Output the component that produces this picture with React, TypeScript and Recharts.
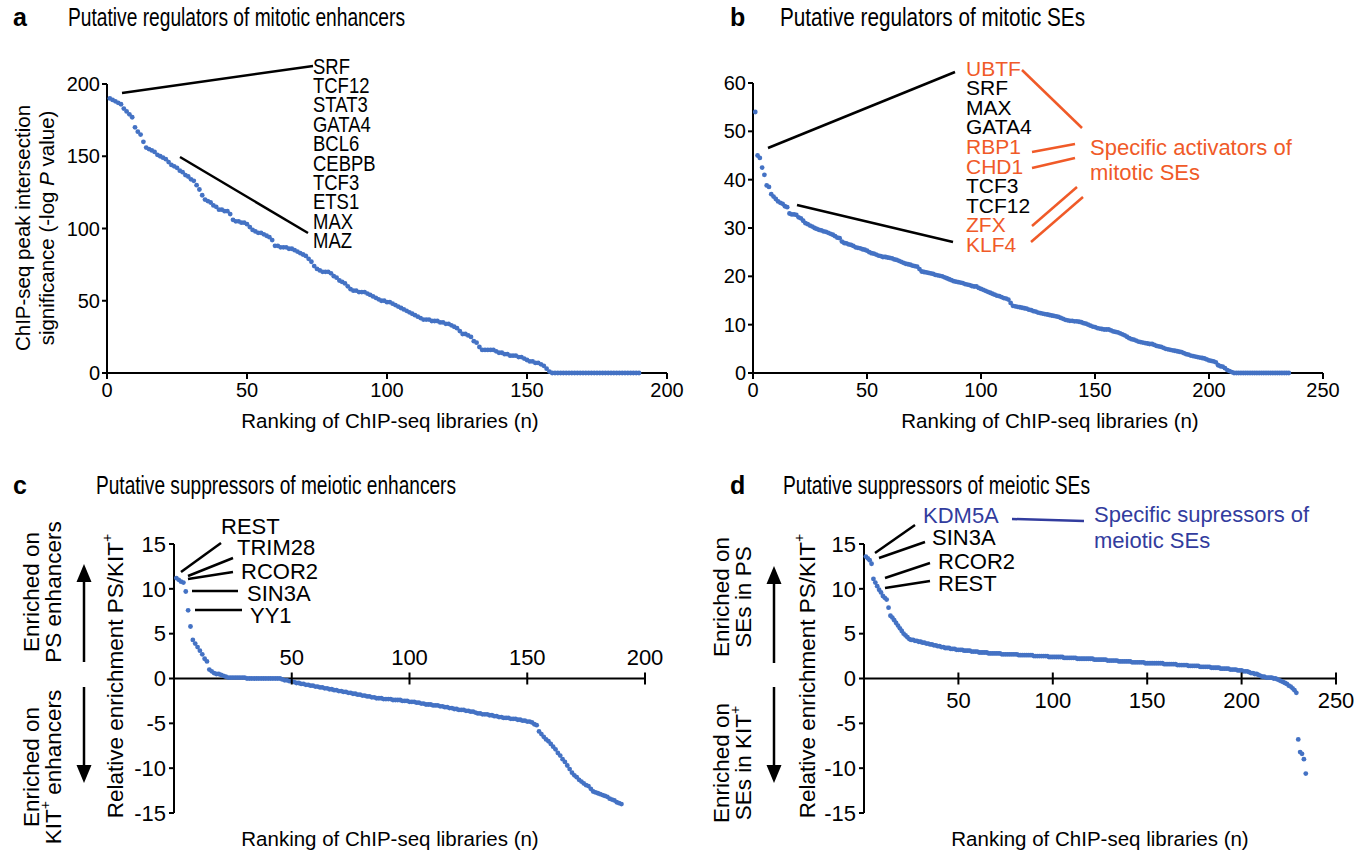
import React from 'react';
import { ScatterChart, Scatter, XAxis, YAxis, ReferenceLine } from 'recharts';

// a: -log P of peak intersection, ranked libraries (mitotic enhancers)
const enhancerScores = [
  190, 189, 188, 187, 186, 183, 181, 179, 177, 170,
  167, 165, 160, 156, 155, 154, 153, 151, 150, 149,
  148, 146, 144, 143, 142, 140, 139, 137, 136, 134,
  133, 130, 127, 123, 120, 119, 118, 116, 115, 113,
  113, 112, 112, 110, 106, 105, 105, 104, 104, 103,
  101, 99, 98, 97, 97, 96, 95, 94, 92, 88,
  88, 87, 87, 87, 86, 86, 85, 84, 83, 82,
  81, 79, 77, 74, 72, 71, 70, 70, 70, 69,
  67, 66, 64, 63, 62, 60, 58, 57, 57, 56,
  56, 56, 55, 54, 53, 52, 51, 50, 50, 49,
  49, 48, 47, 46, 45, 44, 43, 42, 41, 40,
  39, 38, 37, 37, 37, 36, 36, 36, 35, 35,
  34, 34, 33, 32, 31, 29, 27, 27, 26, 25,
  22, 21, 18, 16, 16, 16, 16, 16, 15, 14,
  14, 13, 13, 12, 12, 12, 11, 11, 10, 9,
  8, 8, 7, 7, 6, 5, 3, 1, 0, 0,
  0, 0, 0, 0, 0, 0, 0, 0, 0, 0,
  0, 0, 0, 0, 0, 0, 0, 0, 0, 0,
  0, 0, 0, 0, 0, 0, 0, 0, 0, 0,
];

// b: -log P, mitotic SEs
const seScores = [
  54, 45, 44.5, 42.5, 41, 38.8, 38.5, 37, 36.5, 36,
  35.5, 35.2, 35, 34.5, 34.3, 33, 32.8, 32.8, 32.7, 32.2,
  32, 31.5, 31, 30.8, 30.5, 30.3, 30, 29.8, 29.6, 29.5,
  29.3, 29.2, 29, 28.8, 28.6, 28.3, 28, 27.9, 27.2, 26.9,
  26.8, 26.6, 26.5, 26.3, 26, 25.9, 25.8, 25.6, 25.5, 25.3,
  25, 24.8, 24.7, 24.5, 24.3, 24.2, 24, 24, 23.9, 23.8,
  23.7, 23.5, 23.4, 23.2, 23, 22.8, 22.6, 22.5, 22.4, 22.2,
  22.1, 22, 21.5, 21, 20.9, 20.8, 20.7, 20.6, 20.5, 20.3,
  20.2, 20.1, 20, 19.8, 19.6, 19.4, 19.2, 19, 18.9, 18.8,
  18.7, 18.6, 18.4, 18.3, 18.2, 18, 17.9, 17.9, 17.6, 17.4,
  17.2, 17, 16.8, 16.6, 16.4, 16.2, 16, 15.9, 15.7, 15.5,
  15.4, 15.2, 14.5, 13.9, 13.8, 13.7, 13.6, 13.5, 13.4, 13.3,
  13.1, 13, 12.8, 12.7, 12.5, 12.4, 12.3, 12.2, 12.1, 12,
  11.9, 11.8, 11.7, 11.6, 11.4, 11.2, 11, 10.9, 10.8, 10.8,
  10.7, 10.7, 10.6, 10.5, 10.3, 10.2, 10, 9.8, 9.6, 9.5,
  9.3, 9.2, 9.1, 9, 9, 9, 8.8, 8.6, 8.5, 8.4,
  8.2, 8, 7.8, 7.5, 7.2, 7, 6.9, 6.7, 6.5, 6.4,
  6.3, 6.2, 6.1, 6, 6, 5.8, 5.6, 5.5, 5.4, 5.2,
  5, 4.9, 4.8, 4.7, 4.6, 4.5, 4.4, 4.3, 4.1, 3.9,
  3.8, 3.6, 3.5, 3.4, 3.3, 3.2, 3.1, 3, 2.8, 2.6,
  2.5, 2.4, 2.2, 1.6, 1.4, 1.3, 1, 0.6, 0.4, 0.2,
  0, 0, 0, 0, 0, 0, 0, 0, 0, 0,
  0, 0, 0, 0, 0, 0, 0, 0, 0, 0,
  0, 0, 0, 0, 0,
];

// c: relative enrichment PS/KIT+, meiotic enhancers
const enhancerRatio = [
  11.2, 11, 10.8, 10.7, 9.7, 7.6, 5.8, 4.3, 3.9, 3.5,
  3.1, 2.7, 2.2, 1.9, 1.0, 0.8, 0.6, 0.5, 0.5, 0.4,
  0.3, 0.2, 0.1, 0.1, 0.1, 0.1, 0.1, 0.1, 0.1, 0.1,
  0, 0, 0, 0, 0, 0, 0, 0, 0, 0,
  0, 0, 0, 0, 0, -0.1, -0.2, -0.2, -0.3, -0.3,
  -0.4, -0.5, -0.5, -0.6, -0.6, -0.7, -0.7, -0.8, -0.8, -0.9,
  -0.9, -1.0, -1.0, -1.1, -1.1, -1.2, -1.2, -1.3, -1.3, -1.4,
  -1.4, -1.5, -1.5, -1.6, -1.6, -1.7, -1.7, -1.8, -1.8, -1.9,
  -1.9, -2.0, -2.0, -2.1, -2.1, -2.2, -2.2, -2.2, -2.3, -2.3,
  -2.3, -2.3, -2.4, -2.4, -2.4, -2.4, -2.5, -2.5, -2.5, -2.6,
  -2.6, -2.6, -2.7, -2.7, -2.8, -2.8, -2.9, -2.9, -2.9, -3.0,
  -3.0, -3.0, -3.1, -3.1, -3.2, -3.2, -3.3, -3.3, -3.4, -3.4,
  -3.5, -3.5, -3.5, -3.6, -3.6, -3.7, -3.7, -3.8, -3.9, -3.9,
  -4.0, -4.0, -4.0, -4.1, -4.1, -4.2, -4.2, -4.3, -4.3, -4.4,
  -4.4, -4.4, -4.5, -4.5, -4.5, -4.6, -4.6, -4.7, -4.7, -4.8,
  -4.8, -4.9, -5.1, -5.2, -5.9, -6.2, -6.5, -6.8, -7.0, -7.3,
  -7.6, -7.9, -8.3, -8.6, -9.0, -9.3, -9.7, -10.1, -10.5, -10.8,
  -11.0, -11.3, -11.5, -11.7, -11.9, -12.0, -12.3, -12.6, -12.7, -12.8,
  -12.9, -13.0, -13.1, -13.2, -13.4, -13.5, -13.6, -13.8, -13.9, -14.0,
];

// d: relative enrichment PS/KIT+, meiotic SEs
const seRatio = [
  13.6, 13.4, 13.2, 12.8, 11.1, 10.7, 10.3, 9.9, 9.6, 9.2,
  9.0, 8.8, 7.9, 7.0, 6.8, 6.5, 6.2, 5.9, 5.6, 5.3,
  5.0, 4.8, 4.6, 4.4, 4.3, 4.3, 4.2, 4.2, 4.1, 4.1,
  4.0, 4.0, 3.9, 3.9, 3.8, 3.8, 3.7, 3.7, 3.6, 3.6,
  3.5, 3.5, 3.4, 3.4, 3.4, 3.3, 3.3, 3.3, 3.2, 3.2,
  3.2, 3.2, 3.1, 3.1, 3.1, 3.1, 3.0, 3.0, 3.0, 3.0,
  2.9, 2.9, 2.9, 2.9, 2.9, 2.8, 2.8, 2.8, 2.8, 2.8,
  2.8, 2.8, 2.7, 2.7, 2.7, 2.7, 2.7, 2.7, 2.7, 2.7,
  2.7, 2.6, 2.6, 2.6, 2.6, 2.6, 2.6, 2.6, 2.6, 2.5,
  2.5, 2.5, 2.5, 2.5, 2.5, 2.5, 2.5, 2.4, 2.4, 2.4,
  2.4, 2.4, 2.4, 2.4, 2.4, 2.3, 2.3, 2.3, 2.3, 2.3,
  2.3, 2.3, 2.2, 2.2, 2.2, 2.2, 2.2, 2.2, 2.2, 2.2,
  2.2, 2.1, 2.1, 2.1, 2.1, 2.1, 2.1, 2.1, 2.0, 2.0,
  2.0, 2.0, 2.0, 2.0, 1.9, 1.9, 1.9, 1.9, 1.9, 1.9,
  1.9, 1.8, 1.8, 1.8, 1.8, 1.8, 1.8, 1.8, 1.7, 1.7,
  1.7, 1.7, 1.7, 1.7, 1.7, 1.7, 1.7, 1.7, 1.6, 1.6,
  1.6, 1.6, 1.6, 1.6, 1.6, 1.5, 1.5, 1.5, 1.5, 1.5,
  1.5, 1.4, 1.4, 1.4, 1.4, 1.4, 1.4, 1.3, 1.3, 1.3,
  1.3, 1.3, 1.3, 1.2, 1.2, 1.2, 1.2, 1.2, 1.1, 1.1,
  1.1, 1.1, 1.1, 1.0, 1.0, 1.0, 1.0, 0.9, 0.9, 0.9,
  0.8, 0.8, 0.8, 0.7, 0.6, 0.6, 0.5, 0.5, 0.4, 0.3,
  0.2, 0.2, 0.1, 0.1, 0.1, 0.1, 0.0, 0.0, -0.1, -0.2,
  -0.3, -0.4, -0.5, -0.6, -0.8, -0.9, -1.1, -1.3, -1.6, -6.8,
  -8.2, -8.4, -9.0, -10.6,
];

const xTicksA = [0, 50, 100, 150, 200];
const yTicksA = [0, 50, 100, 150, 200];
const xTicksB = [0, 50, 100, 150, 200, 250];
const yTicksB = [0, 10, 20, 30, 40, 50, 60];
const xTicksC = [50, 100, 150, 200];
const xTicksD = [50, 100, 150, 200, 250];
const yTicksRatio = [-15, -10, -5, 0, 5, 10, 15];

const enhancerRegulators = ['SRF', 'TCF12', 'STAT3', 'GATA4', 'BCL6', 'CEBPB', 'TCF3', 'ETS1', 'MAX', 'MAZ'];
const seRegulators = ['UBTF', 'SRF', 'MAX', 'GATA4', 'RBP1', 'CHD1', 'TCF3', 'TCF12', 'ZFX', 'KLF4'];
const seActivators = ['UBTF', 'RBP1', 'CHD1', 'ZFX', 'KLF4'];
const enhancerSuppressors = ['REST', 'TRIM28', 'RCOR2', 'SIN3A', 'YY1'];
const seSuppressors = ['KDM5A', 'SIN3A', 'RCOR2', 'REST'];

const FONT = "'Liberation Sans', Arial, Helvetica, sans-serif";
const DOT = '#4472C4';
const ORANGE = '#F05A28';
const NAVY = '#323C9E';

const toPoints = (vals: number[]) => vals.map((y, i) => ({ x: i + 1, y }));

const axisStyle = { stroke: '#000', strokeWidth: 2 };
const tickFont = { fill: '#000', fontSize: 20, fontFamily: FONT };
const tickFontLow = { fill: '#000', fontSize: 22, fontFamily: FONT };

const Dot = (p: any) => <circle cx={p.cx} cy={p.cy} r={2.4} fill={DOT} />;

// x ticks drawn on the y=0 line instead of the plot bottom
const ZeroTick = (props: any) => {
  const { x, y, payload, lift, below } = props;
  const zy = y - lift;
  return (
    <g>
      <line x1={x} x2={x} y1={zy - 6} y2={zy + 6} stroke="#000" strokeWidth={2} />
      <text x={x} y={below ? zy + 22 : zy - 21} textAnchor="middle" dominantBaseline="central"
        fontSize={22} fontFamily={FONT} fill="#000">{payload.value}</text>
    </g>
  );
};

function TopPanel({ left, width, margin, yWidth, xMax, xTicks, yMax, yTicks, data }: any) {
  return (
    <div style={{ position: 'absolute', left, top: 0 }}>
      <ScatterChart width={width} height={440} margin={margin}>
        <XAxis type="number" dataKey="x" domain={[0, xMax]} ticks={xTicks} interval={0} height={40}
          tickSize={6} tickMargin={4} axisLine={axisStyle} tickLine={axisStyle} tick={tickFont} />
        <YAxis type="number" dataKey="y" domain={[0, yMax]} ticks={yTicks} interval={0} width={yWidth}
          tickSize={5} tickMargin={2} axisLine={axisStyle} tickLine={axisStyle} tick={tickFont} />
        <Scatter data={toPoints(data)} shape={Dot} isAnimationActive={false} />
      </ScatterChart>
    </div>
  );
}

function RatioPanel({ left, width, margin, yWidth, xMax, xTicks, data, below }: any) {
  const height = 399;
  const lift = (height - margin.top - margin.bottom - 10) / 2 + 8;
  return (
    <div style={{ position: 'absolute', left, top: 460 }}>
      <ScatterChart width={width} height={height} margin={margin}>
        <XAxis type="number" dataKey="x" domain={[0, xMax]} ticks={xTicks} interval={0} height={10}
          tickSize={6} tickMargin={2} axisLine={false} tickLine={false}
          tick={(p: any) => <ZeroTick {...p} lift={lift} below={below} />} />
        <YAxis type="number" dataKey="y" domain={[-15, 15]} ticks={yTicksRatio} interval={0} width={yWidth}
          tickSize={5} tickMargin={3} axisLine={axisStyle} tickLine={axisStyle} tick={tickFontLow} />
        <ReferenceLine y={0} stroke="#000" strokeWidth={2} />
        <Scatter data={toPoints(data)} shape={Dot} isAnimationActive={false} />
      </ScatterChart>
    </div>
  );
}

const T = (p: any) => (
  <text dominantBaseline="central" fontFamily={FONT} fill="#000" fontSize={21} {...p} />
);
const L = ({ a, b, c, d, color = '#000' }: any) => (
  <line x1={a} y1={b} x2={c} y2={d} stroke={color} strokeWidth={2.5} />
);

function Arrow({ x, from, to }: any) {
  const dir = to < from ? -1 : 1;
  const base = to - dir * 18;
  return (
    <g>
      <line x1={x} x2={x} y1={from} y2={base} stroke="#000" strokeWidth={2.5} />
      <polygon points={`${x - 7.5},${base} ${x + 7.5},${base} ${x},${to}`} fill="#000" />
    </g>
  );
}

const Kit = () => (
  <>
    <tspan>KIT</tspan>
    <tspan dy={-8} fontSize={14}>+</tspan>
  </>
);

function Overlay() {
  return (
    <svg width={1371} height={859} style={{ position: 'absolute', left: 0, top: 0, pointerEvents: 'none' }}>
      {/* panel titles */}
      <T x={13} y={17} fontSize={25} fontWeight="bold">a</T>
      <T x={68} y={17} fontSize={25} textLength={337} lengthAdjust="spacingAndGlyphs">Putative regulators of mitotic enhancers</T>
      <T x={730} y={17} fontSize={25} fontWeight="bold">b</T>
      <T x={780} y={17} fontSize={25} textLength={305} lengthAdjust="spacingAndGlyphs">Putative regulators of mitotic SEs</T>
      <T x={13} y={485} fontSize={25} fontWeight="bold">c</T>
      <T x={96} y={485} fontSize={25} textLength={360} lengthAdjust="spacingAndGlyphs">Putative suppressors of meiotic enhancers</T>
      <T x={730} y={485} fontSize={25} fontWeight="bold">d</T>
      <T x={783} y={485} fontSize={25} textLength={307} lengthAdjust="spacingAndGlyphs">Putative suppressors of meiotic SEs</T>

      {/* axis titles */}
      <T x={0} y={0} fontSize={20.5} textAnchor="middle" transform="translate(22 228) rotate(-90)">ChIP-seq peak intersection</T>
      <T x={0} y={0} fontSize={20.5} textAnchor="middle" transform="translate(46 228) rotate(-90)">
        significance (-log <tspan fontStyle="italic">P</tspan> value)
      </T>
      <T x={390} y={420} fontSize={20.5} textAnchor="middle">Ranking of ChIP-seq libraries (n)</T>
      <T x={1050} y={420} fontSize={20.5} textAnchor="middle">Ranking of ChIP-seq libraries (n)</T>
      <T x={390} y={838} fontSize={20.5} textAnchor="middle">Ranking of ChIP-seq libraries (n)</T>
      <T x={1100} y={838} fontSize={20.5} textAnchor="middle">Ranking of ChIP-seq libraries (n)</T>

      <T x={0} y={0} fontSize={22.5} textAnchor="middle" transform="translate(115 676) rotate(-90)">
        Relative enrichment PS/<Kit />
      </T>
      <T x={0} y={0} fontSize={22.5} textAnchor="middle" transform="translate(807 676) rotate(-90)">
        Relative enrichment PS/<Kit />
      </T>

      {/* c side notes */}
      <T x={0} y={0} fontSize={22.5} textAnchor="middle" transform="translate(31 592) rotate(-90)">Enriched on</T>
      <T x={0} y={0} fontSize={22.5} textAnchor="middle" transform="translate(53 592) rotate(-90)">PS enhancers</T>
      <T x={0} y={0} fontSize={22.5} textAnchor="middle" transform="translate(31 767) rotate(-90)">Enriched on</T>
      <T x={0} y={0} fontSize={22.5} textAnchor="middle" transform="translate(53 767) rotate(-90)">
        <Kit /><tspan dy={8}> enhancers</tspan>
      </T>
      <Arrow x={84} from={662} to={564} />
      <Arrow x={84} from={687} to={783} />

      {/* d side notes */}
      <T x={0} y={0} fontSize={22.5} textAnchor="middle" transform="translate(721 597) rotate(-90)">Enriched on</T>
      <T x={0} y={0} fontSize={22.5} textAnchor="middle" transform="translate(743 597) rotate(-90)">SEs in PS</T>
      <T x={0} y={0} fontSize={22.5} textAnchor="middle" transform="translate(721 763) rotate(-90)">Enriched on</T>
      <T x={0} y={0} fontSize={22.5} textAnchor="middle" transform="translate(743 763) rotate(-90)">
        <tspan>SEs in </tspan><Kit />
      </T>
      <Arrow x={774} from={663} to={566} />
      <Arrow x={774} from={687} to={783} />

      {/* a annotations */}
      <L a={122} b={93} c={313} d={66} />
      <L a={180} b={157} c={308} d={233} />
      <g transform="translate(313 0) scale(0.84 1)">
        {enhancerRegulators.map((n, i) => (
          <T key={n} x={0} y={66 + i * 19.4} fontSize={22}>{n}</T>
        ))}
      </g>

      {/* b annotations */}
      <L a={768} b={148} c={955} d={72} />
      <L a={797} b={205} c={953} d={242} />
      {seRegulators.map((n, i) => (
        <T key={n} x={966} y={68 + i * 19.6} fill={seActivators.includes(n) ? ORANGE : '#000'}>{n}</T>
      ))}
      <L a={1022} b={70} c={1082} d={128} color={ORANGE} />
      <L a={1032} b={152} c={1075} d={144} color={ORANGE} />
      <L a={1032} b={168} c={1075} d={158} color={ORANGE} />
      <L a={1032} b={226} c={1077} d={187} color={ORANGE} />
      <L a={1031} b={242} c={1083} d={197} color={ORANGE} />
      <T x={1090} y={147} fill={ORANGE} fontSize={22}>Specific activators of</T>
      <T x={1090} y={172} fill={ORANGE} fontSize={22}>mitotic SEs</T>

      {/* c annotations */}
      {enhancerSuppressors.map((n, i) => (
        <T key={n} fontSize={22} x={[221, 237, 241, 247, 250][i]} y={[526, 547, 571, 593, 615][i]}>{n}</T>
      ))}
      <L a={181} b={572} c={221} d={543} />
      <L a={188} b={576} c={233} d={558} />
      <L a={188} b={579} c={233} d={572} />
      <L a={192} b={591} c={238} d={591} />
      <L a={195} b={610} c={242} d={610} />

      {/* d annotations */}
      {seSuppressors.map((n, i) => (
        <T key={n} fontSize={22} x={[923, 932, 938, 938][i]} y={[515, 537, 561, 583][i]} fill={i === 0 ? NAVY : '#000'}>{n}</T>
      ))}
      <L a={875} b={553} c={915} d={525} />
      <L a={879} b={558} c={925} d={542} />
      <L a={885} b={578} c={930} d={563} />
      <L a={885} b={588} c={930} d={581} />
      <L a={1012} b={519} c={1084} d={521} color={NAVY} />
      <T x={1094} y={514} fill={NAVY} fontSize={22}>Specific supressors of</T>
      <T x={1094} y={540} fill={NAVY} fontSize={22}>meiotic SEs</T>
    </svg>
  );
}

export default function App() {
  return (
    <div style={{ position: 'absolute', left: 0, top: 0, width: 1371, height: 859, background: '#fff', fontFamily: FONT }}>
      <TopPanel left={0} width={700} margin={{ top: 84, right: 33, bottom: 27, left: 47 }} yWidth={60}
        xMax={200} xTicks={xTicksA} yMax={200} yTicks={yTicksA} data={enhancerScores} />
      <TopPanel left={700} width={671} margin={{ top: 83, right: 48, bottom: 27, left: 3 }} yWidth={50}
        xMax={250} xTicks={xTicksB} yMax={60} yTicks={yTicksB} data={seScores} />
      <RatioPanel left={0} width={690} margin={{ top: 84, right: 45, bottom: 36, left: 114 }} yWidth={60}
        xMax={200} xTicks={xTicksC} data={enhancerRatio} below={false} />
      <RatioPanel left={690} width={681} margin={{ top: 84, right: 35, bottom: 36, left: 124 }} yWidth={50}
        xMax={250} xTicks={xTicksD} data={seRatio} below={true} />
      <Overlay />
    </div>
  );
}
